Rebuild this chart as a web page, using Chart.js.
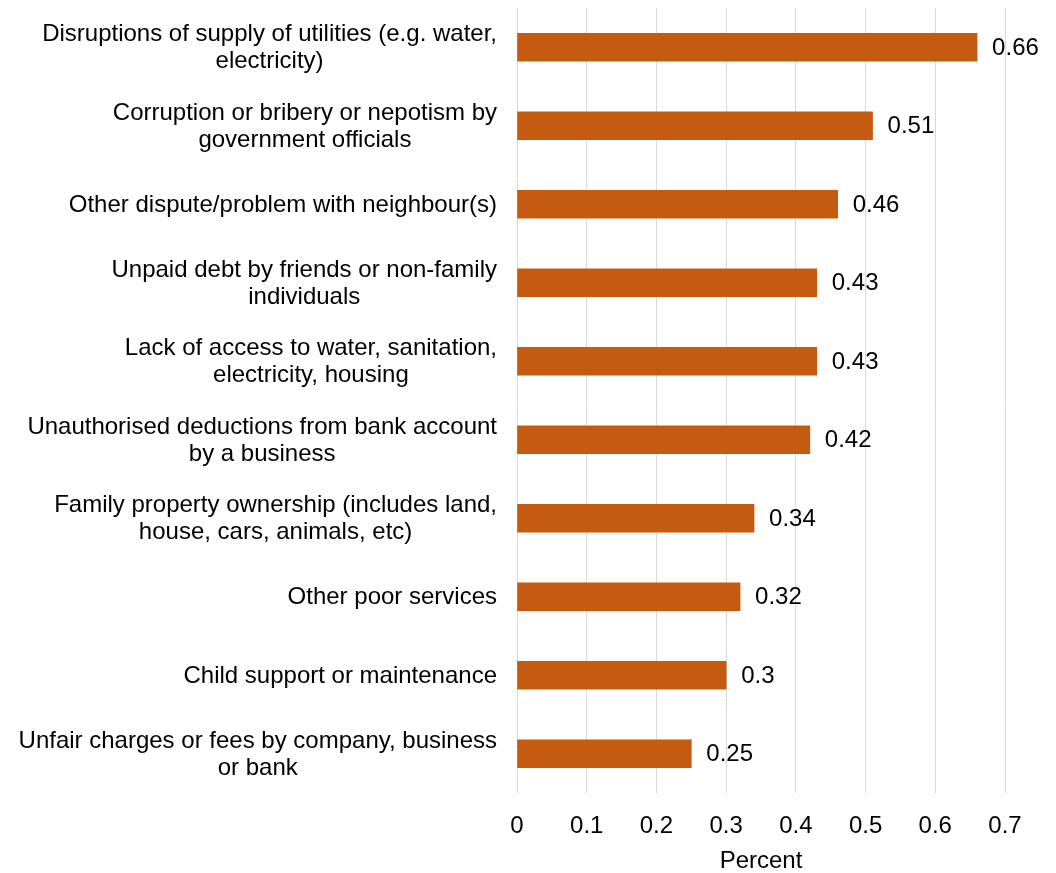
<!DOCTYPE html>
<html>
<head>
<meta charset="utf-8">
<script src="https://cdn.jsdelivr.net/npm/chart.js@4"></script>
<style>
  html, body { margin: 0; padding: 0; background: #fff; }
  #wrap { width: 1056px; height: 873px; }
</style>
</head>
<body>
<div id="wrap"><canvas id="chart"></canvas></div>
<script>
const categories = [
  ['Disruptions of supply of utilities (e.g. water,', 'electricity)'],
  ['Corruption or bribery or nepotism by', 'government officials'],
  ['Other dispute/problem with neighbour(s)'],
  ['Unpaid debt by friends or non-family', 'individuals'],
  ['Lack of access to water, sanitation,', 'electricity, housing'],
  ['Unauthorised deductions from bank account', 'by a business'],
  ['Family property ownership (includes land,', 'house, cars, animals, etc)'],
  ['Other poor services'],
  ['Child support or maintenance'],
  ['Unfair charges or fees by company, business', 'or bank']
];
const percentValues = [0.66, 0.51, 0.46, 0.43, 0.43, 0.42, 0.34, 0.32, 0.3, 0.25];
const xTicks = [0, 0.1, 0.2, 0.3, 0.4, 0.5, 0.6, 0.7];

const FONT = 'Liberation Sans, Arial, sans-serif';

// category labels: block right-aligned to the axis, lines centred inside the block
const categoryLabels = {
  id: 'categoryLabels',
  afterDraw(chart) {
    const ctx = chart.ctx;
    const y = chart.scales.y;
    const right = chart.chartArea.left - 20;
    const lh = 27;
    ctx.save();
    ctx.font = '24px ' + FONT;
    ctx.fillStyle = '#000';
    ctx.textAlign = 'center';
    ctx.textBaseline = 'middle';
    categories.forEach((lines, i) => {
      const w = Math.max(...lines.map(l => ctx.measureText(l).width));
      const cx = right - w / 2;
      const cy = y.getPixelForTick(i) + 1;
      const top = cy - (lines.length - 1) * lh / 2;
      lines.forEach((l, j) => ctx.fillText(l, cx, top + j * lh));
    });
    ctx.restore();
  }
};

// draws the value next to each bar
const valueLabels = {
  id: 'valueLabels',
  afterDatasetsDraw(chart) {
    const ctx = chart.ctx;
    const meta = chart.getDatasetMeta(0);
    ctx.save();
    ctx.font = '24px ' + FONT;
    ctx.fillStyle = '#000';
    ctx.textAlign = 'left';
    ctx.textBaseline = 'middle';
    meta.data.forEach((bar, i) => {
      ctx.fillText(String(percentValues[i]), bar.x + 15, bar.y + 1);
    });
    ctx.restore();
  }
};

new Chart(document.getElementById('chart'), {
  type: 'bar',
  data: {
    labels: categories,
    datasets: [{
      data: percentValues,
      backgroundColor: '#C55A11',
      barThickness: 28
    }]
  },
  options: {
    indexAxis: 'y',
    responsive: true,
    maintainAspectRatio: false,
    animation: false,
    layout: { padding: { top: 8, right: 51, left: 0, bottom: 0 } },
    plugins: { legend: { display: false }, tooltip: { enabled: false } },
    scales: {
      x: {
        min: 0,
        max: 0.7,
        afterBuildTicks: s => { s.ticks = xTicks.map(v => ({ value: v })); },
        afterFit: s => { s.height = 80; },
        grid: { color: '#d9d9d9', lineWidth: 1, drawTicks: false },
        border: { display: false },
        ticks: { color: '#000', padding: 19, font: { size: 24, family: FONT } },
        title: { display: true, text: 'Percent', color: '#000', padding: { top: 0, bottom: 0 }, font: { size: 24, family: FONT, lineHeight: 1.0 } }
      },
      y: {
        afterFit: s => { s.width = 517; s.paddingTop = 0; s.paddingBottom = 0; },
        grid: { display: false },
        border: { display: false },
        ticks: { display: false }
      }
    }
  },
  plugins: [valueLabels, categoryLabels]
});
</script>
</body>
</html>
